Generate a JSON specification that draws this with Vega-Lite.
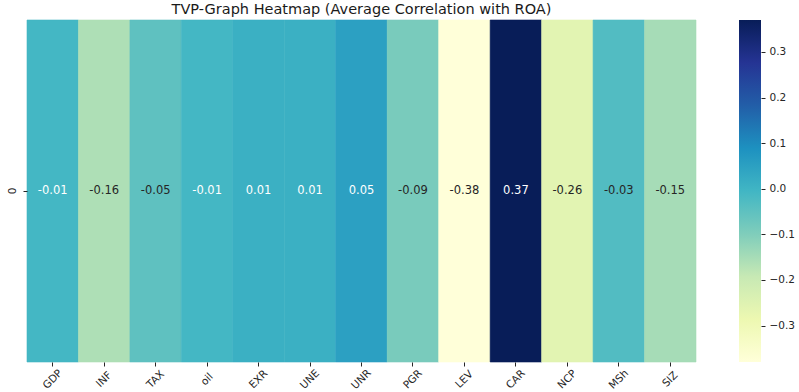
{
  "$schema": "https://vega.github.io/schema/vega-lite/v6.json",
  "background": "white",
  "padding": {"left": 7, "top": 2, "right": 5, "bottom": 0},
  "config": {
    "font": "DejaVu Sans",
    "locale": {"number": {"decimal": ".", "thousands": ",", "grouping": [3], "currency": ["$", ""], "minus": "-"}},
    "view": {"stroke": null},
    "axis": {"labelFont": "DejaVu Sans", "labelColor": "#262626", "tickColor": "#262626", "domain": false, "grid": false, "title": null}
  },
  "spacing": 42,
  "hconcat": [
    {
      "title": {"text": "TVP-Graph Heatmap (Average Correlation with ROA)", "font": "DejaVu Sans", "fontSize": 14.5, "fontWeight": "normal", "color": "#1a1a1a", "offset": 2},
      "width": 669,
      "height": 342,
      "data": {
        "values": [
          {"var": "GDP", "row": "0", "value": -0.01},
          {"var": "INF", "row": "0", "value": -0.16},
          {"var": "TAX", "row": "0", "value": -0.05},
          {"var": "oil", "row": "0", "value": -0.01},
          {"var": "EXR", "row": "0", "value": 0.01},
          {"var": "UNE", "row": "0", "value": 0.01},
          {"var": "UNR", "row": "0", "value": 0.05},
          {"var": "PGR", "row": "0", "value": -0.09},
          {"var": "LEV", "row": "0", "value": -0.38},
          {"var": "CAR", "row": "0", "value": 0.37},
          {"var": "NCP", "row": "0", "value": -0.26},
          {"var": "MSh", "row": "0", "value": -0.03},
          {"var": "SIZ", "row": "0", "value": -0.15}
        ]
      },
      "encoding": {
        "x": {
          "field": "var", "type": "nominal", "sort": null,
          "scale": {"paddingInner": 0, "paddingOuter": 0},
          "axis": {"labelAngle": -45, "labelAlign": "center", "labelBaseline": "middle", "labelPadding": 13, "labelFontSize": 10.5, "tickSize": 4}
        },
        "y": {
          "field": "row", "type": "nominal",
          "scale": {"paddingInner": 0, "paddingOuter": 0},
          "axis": {"labelAngle": -90, "labelAlign": "center", "labelBaseline": "bottom", "labelPadding": 6, "labelFontSize": 10.5, "tickSize": 4}
        }
      },
      "layer": [
        {
          "mark": {"type": "rect", "strokeWidth": 0.6},
          "encoding": {
            "color": {
              "field": "value", "type": "quantitative", "legend": null,
              "scale": {
                "domain": [-0.38, -0.28625, -0.1925, -0.09875, -0.005, 0.08875, 0.1825, 0.27625, 0.37],
                "range": ["#ffffd9", "#edf8b1", "#c7e9b4", "#7fcdbb", "#41b6c4", "#1d91c0", "#225ea8", "#253494", "#081d58"],
                "interpolate": "rgb"
              }
            },
            "stroke": {
              "field": "value", "type": "quantitative", "legend": null,
              "scale": {
                "domain": [-0.38, -0.28625, -0.1925, -0.09875, -0.005, 0.08875, 0.1825, 0.27625, 0.37],
                "range": ["#ffffd9", "#edf8b1", "#c7e9b4", "#7fcdbb", "#41b6c4", "#1d91c0", "#225ea8", "#253494", "#081d58"],
                "interpolate": "rgb"
              }
            }
          }
        },
        {
          "mark": {"type": "text", "fontSize": 11.5, "font": "DejaVu Sans"},
          "encoding": {
            "text": {"field": "value", "type": "quantitative", "format": ".2f"},
            "color": {
              "condition": {"test": "datum.value > -0.02", "value": "#ffffff"},
              "value": "#262626"
            }
          }
        }
      ]
    },
    {
      "width": 22,
      "height": 342,
      "data": {"values": [{"vmin": -0.38, "vmax": 0.37}]},
      "mark": {
        "type": "rect",
        "color": {
          "gradient": "linear", "x1": 0, "y1": 1, "x2": 0, "y2": 0,
          "stops": [
            {"offset": 0, "color": "#ffffd9"},
            {"offset": 0.125, "color": "#edf8b1"},
            {"offset": 0.25, "color": "#c7e9b4"},
            {"offset": 0.375, "color": "#7fcdbb"},
            {"offset": 0.5, "color": "#41b6c4"},
            {"offset": 0.625, "color": "#1d91c0"},
            {"offset": 0.75, "color": "#225ea8"},
            {"offset": 0.875, "color": "#253494"},
            {"offset": 1, "color": "#081d58"}
          ]
        }
      },
      "encoding": {
        "y": {
          "field": "vmin", "type": "quantitative",
          "scale": {"domain": [-0.38, 0.37], "nice": false, "zero": false},
          "axis": {"orient": "right", "values": [-0.3, -0.2, -0.1, 0, 0.1, 0.2, 0.3], "format": ".1f", "labelExpr": "replace(datum.label, '-', '\u2212')", "labelFontSize": 10.5, "tickSize": 4, "labelPadding": 4}
        },
        "y2": {"field": "vmax"}
      }
    }
  ],
  "resolve": {"scale": {"y": "independent"}}
}
